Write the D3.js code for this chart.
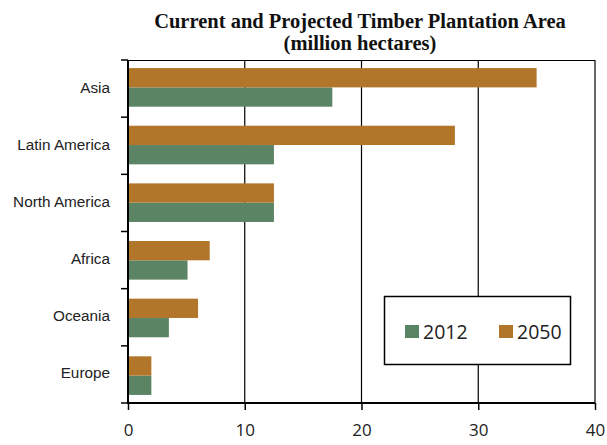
<!DOCTYPE html>
<html><head><meta charset="utf-8">
<script src="https://cdn.jsdelivr.net/npm/d3@7"></script>
<style>body{margin:0;background:#fff}</style>
</head><body>
<script>
const categories = ["Asia","Latin America","North America","Africa","Oceania","Europe"];
const series = ["2012","2050"];
const values2012 = [17.5, 12.5, 12.5, 5.1, 3.5, 2];
const values2050 = [35, 28, 12.5, 7, 6, 2];
const xTicks = [0,10,20,30,40];
const colors = {"2012":"#5B8465","2050":"#B2762B"};

const W=607,H=445;
const m={l:128,r:10,t:60,b:42};
const svg=d3.select("body").append("svg").attr("width",W).attr("height",H);
const x=d3.scaleLinear().domain([0,40]).range([m.l,595]);
const y=d3.scaleBand().domain(categories).range([m.t,403]).paddingInner(0.33).paddingOuter(0.14);
const yi=d3.scaleBand().domain(["2050","2012"]).range([0,y.bandwidth()]);

// title
const t=svg.append("text").attr("x",360).attr("text-anchor","middle")
 .attr("font-family","Liberation Serif, serif").attr("font-weight","bold").attr("font-size",20.5).attr("fill","#111");
t.append("tspan").attr("x",360).attr("y",28).text("Current and Projected Timber Plantation Area");
t.append("tspan").attr("x",360).attr("y",50).text("(million hectares)");

// gridlines
svg.append("g").selectAll("line").data(xTicks.slice(1)).join("line")
 .attr("x1",d=>x(d)).attr("x2",d=>x(d)).attr("y1",60).attr("y2",403)
 .attr("stroke","#000").attr("stroke-width",1.2);
// top border
svg.append("line").attr("x1",x(0)).attr("x2",x(40)).attr("y1",60.5).attr("y2",60.5).attr("stroke","#000").attr("stroke-width",1);

// bars
const data=categories.map((c,i)=>({c,v:{"2012":values2012[i],"2050":values2050[i]}}));
const g=svg.append("g");
data.forEach(d=>{
  series.forEach(s=>{
    g.append("rect").attr("x",x(0)).attr("y",y(d.c)+yi(s)).attr("width",x(d.v[s])-x(0)).attr("height",yi.bandwidth()).attr("fill",colors[s]);
  });
});

// x axis
const xa=svg.append("g").attr("transform","translate(0,403)")
 .call(d3.axisBottom(x).tickValues(xTicks).tickSize(7).tickPadding(14).tickFormat(d3.format("d")));
xa.select(".domain").attr("stroke","#000").attr("stroke-width",2).attr("d",`M${x(0)},0H${x(40)}`);
xa.selectAll(".tick line").attr("stroke","#000").attr("stroke-width",1.5);
xa.selectAll("text").attr("font-family","Open Sans, sans-serif").attr("font-size",17).attr("fill","#222");

// y axis
const boundaries=d3.range(categories.length+1).map(i=>60+i*(343/6));
svg.append("line").attr("x1",x(0)).attr("x2",x(0)).attr("y1",60).attr("y2",404).attr("stroke","#000").attr("stroke-width",2);
svg.append("g").selectAll("line").data(boundaries).join("line")
 .attr("x1",121).attr("x2",x(0)).attr("y1",d=>d).attr("y2",d=>d).attr("stroke","#000").attr("stroke-width",1.5);
svg.append("g").selectAll("text").data(categories).join("text")
 .attr("x",110).attr("y",c=>(60+categories.indexOf(c)*(343/6)+343/12)+4)
 .attr("text-anchor","end").attr("font-family","Liberation Sans, Arial, sans-serif").attr("font-size",15.3).attr("fill","#222").text(c=>c);

// legend
const lg=svg.append("g");
lg.append("rect").attr("x",384.5).attr("y",296.5).attr("width",186).attr("height",68).attr("fill","#fff").attr("stroke","#000").attr("stroke-width",1.5);
const items=[{s:"2012",x:405},{s:"2050",x:499}];
items.forEach(it=>{
  lg.append("rect").attr("x",it.x).attr("y",325).attr("width",14).attr("height",13).attr("fill",colors[it.s]);
  lg.append("text").attr("x",it.x+18).attr("y",338.5).attr("font-family","Open Sans, sans-serif").attr("font-size",19.5).attr("fill","#222").text(it.s);
});
</script>
</body></html>
